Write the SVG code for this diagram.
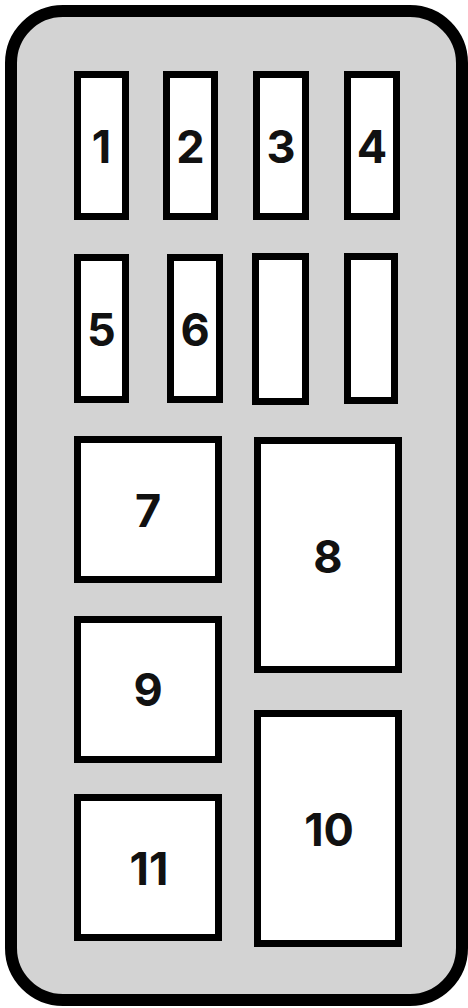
<svg xmlns="http://www.w3.org/2000/svg" width="468" height="1008" viewBox="0 0 468 1008">
<style>
.fuse{fill:#ffffff;stroke:#000000;stroke-width:7}
.lbl{font-family:Inter,"Open Sans","DejaVu Sans",sans-serif;font-weight:700;font-size:45px;fill:#111111;text-anchor:middle}
</style>
<rect width="468" height="1008" fill="#ffffff"/>
<g id="housing">
<rect x="11" y="11" width="451" height="989" rx="52" ry="52" fill="#d3d3d3" stroke="#000000" stroke-width="12"/>
</g>
<g id="f1"><rect class="fuse" x="77.5" y="74.5" width="48" height="142"/><text class="lbl" x="101.5" y="163">1</text></g>
<g id="f2"><rect class="fuse" x="166.5" y="74.5" width="48" height="142"/><text class="lbl" x="190.5" y="163">2</text></g>
<g id="f3"><rect class="fuse" x="256.5" y="74.5" width="49" height="142"/><text class="lbl" x="281" y="163">3</text></g>
<g id="f4"><rect class="fuse" x="347.5" y="74.5" width="49" height="142"/><text class="lbl" x="372" y="163">4</text></g>
<g id="f5"><rect class="fuse" x="77.5" y="257.5" width="48" height="142"/><text class="lbl" x="101.5" y="346">5</text></g>
<g id="f6"><rect class="fuse" x="170.5" y="257.5" width="49" height="142"/><text class="lbl" x="195" y="346">6</text></g>
<g id="f7"><rect class="fuse" x="255.5" y="256.5" width="50" height="145"/></g>
<g id="f8"><rect class="fuse" x="347.5" y="256.5" width="47" height="144"/></g>
<g id="r7"><rect class="fuse" x="77.5" y="439.5" width="141" height="140"/><text class="lbl" x="148" y="527">7</text></g>
<g id="r8"><rect class="fuse" x="257.5" y="440.5" width="141" height="229"/><text class="lbl" x="328" y="573">8</text></g>
<g id="r9"><rect class="fuse" x="77.5" y="619.5" width="141" height="140"/><text class="lbl" x="148" y="706">9</text></g>
<g id="r10"><rect class="fuse" x="257.5" y="713.5" width="141" height="230"/><text class="lbl" x="329" y="846">10</text></g>
<g id="r11"><rect class="fuse" x="77.5" y="797.5" width="141" height="140"/><text class="lbl" x="149" y="885">11</text></g>
<g id="connectors"/>
</svg>
